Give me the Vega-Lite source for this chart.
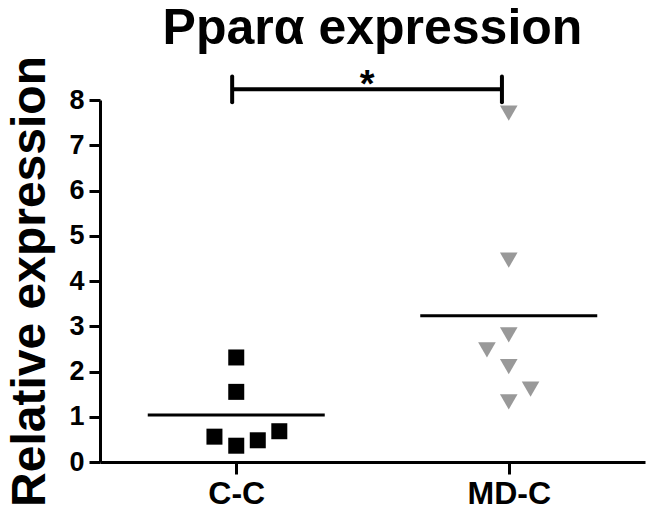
{
  "$schema": "https://vega.github.io/schema/vega-lite/v6.json",
  "width": 545,
  "height": 362,
  "autosize": {"type": "none"},
  "padding": {"left": 100, "top": 100, "right": 8, "bottom": 52},
  "background": "white",
  "config": {
    "view": {"stroke": null},
    "font": "Liberation Sans",
    "axis": {
      "grid": false,
      "domainColor": "black",
      "domainWidth": 3,
      "tickColor": "black",
      "tickWidth": 3,
      "labelColor": "black",
      "labelFontWeight": "bold",
      "labelFont": "Liberation Sans",
      "titleColor": "black",
      "titleFont": "Liberation Sans",
      "titleFontWeight": "bold"
    }
  },
  "title": {
    "text": "Pparα expression",
    "font": "Liberation Sans",
    "fontSize": 50,
    "fontWeight": "bold",
    "color": "black",
    "anchor": "middle",
    "frame": "group",
    "offset": 2
  },
  "datasets": {
    "points": [
      {"group": "C-C", "pos": 1.0, "value": 2.31},
      {"group": "C-C", "pos": 1.0, "value": 1.55},
      {"group": "C-C", "pos": 0.92, "value": 0.56},
      {"group": "C-C", "pos": 1.0, "value": 0.36},
      {"group": "C-C", "pos": 1.079, "value": 0.48},
      {"group": "C-C", "pos": 1.158, "value": 0.68},
      {"group": "MD-C", "pos": 2.0, "value": 7.71},
      {"group": "MD-C", "pos": 2.0, "value": 4.46},
      {"group": "MD-C", "pos": 2.0, "value": 2.81},
      {"group": "MD-C", "pos": 1.92, "value": 2.48},
      {"group": "MD-C", "pos": 2.0, "value": 2.11},
      {"group": "MD-C", "pos": 2.08, "value": 1.61},
      {"group": "MD-C", "pos": 2.0, "value": 1.33}
    ],
    "means": [
      {"group": "C-C", "pos": 1, "mean": 1.04},
      {"group": "MD-C", "pos": 2, "mean": 3.23}
    ],
    "comparison": [
      {"from": 0.985, "to": 1.975, "mid": 1.48, "level": 8.24, "low": 7.95, "high": 8.52, "label": "*"}
    ]
  },
  "layer": [
    {
      "data": {"name": "means"},
      "mark": {"type": "tick", "orient": "horizontal", "size": 177, "thickness": 3, "color": "black", "opacity": 1},
      "encoding": {
        "x": {
          "field": "pos",
          "type": "quantitative",
          "scale": {"domain": [0.5, 2.5], "nice": false, "zero": false},
          "axis": {
            "values": [1, 2],
            "labelExpr": "datum.value == 1 ? 'C-C' : 'MD-C'",
            "labelFontSize": 32,
            "tickSize": 12,
            "labelPadding": 4,
            "title": null
          }
        },
        "y": {
          "field": "mean",
          "type": "quantitative",
          "scale": {"domain": [0, 8], "nice": false},
          "axis": {
            "values": [0, 1, 2, 3, 4, 5, 6, 7, 8],
            "format": "d",
            "labelFontSize": 27,
            "tickSize": 11,
            "labelPadding": 5,
            "title": "Relative expression",
            "titleFontSize": 48,
            "titlePadding": 14
          }
        }
      }
    },
    {
      "data": {"name": "points"},
      "mark": {"type": "point", "filled": true, "opacity": 1, "strokeWidth": 0},
      "encoding": {
        "x": {"field": "pos", "type": "quantitative"},
        "y": {"field": "value", "type": "quantitative"},
        "shape": {"field": "group", "type": "nominal", "scale": {"domain": ["C-C", "MD-C"], "range": ["square", "triangle-down"]}, "legend": null},
        "color": {"field": "group", "type": "nominal", "scale": {"domain": ["C-C", "MD-C"], "range": ["#000000", "#999999"]}, "legend": null},
        "size": {"field": "group", "type": "nominal", "scale": {"domain": ["C-C", "MD-C"], "range": [256, 310]}, "legend": null}
      }
    },
    {
      "data": {"name": "comparison"},
      "mark": {"type": "rule", "color": "black", "strokeWidth": 4},
      "encoding": {
        "x": {"field": "from", "type": "quantitative"},
        "x2": {"field": "to"},
        "y": {"field": "level", "type": "quantitative"}
      }
    },
    {
      "data": {"name": "comparison"},
      "mark": {"type": "rule", "color": "black", "strokeWidth": 4, "strokeCap": "round"},
      "encoding": {
        "x": {"field": "from", "type": "quantitative"},
        "y": {"field": "low", "type": "quantitative"},
        "y2": {"field": "high"}
      }
    },
    {
      "data": {"name": "comparison"},
      "mark": {"type": "rule", "color": "black", "strokeWidth": 4, "strokeCap": "round"},
      "encoding": {
        "x": {"field": "to", "type": "quantitative"},
        "y": {"field": "low", "type": "quantitative"},
        "y2": {"field": "high"}
      }
    },
    {
      "data": {"name": "comparison"},
      "mark": {"type": "text", "fontSize": 38, "fontWeight": "bold", "color": "black", "baseline": "alphabetic", "align": "center", "font": "Liberation Sans", "dy": 8},
      "encoding": {
        "x": {"field": "mid", "type": "quantitative"},
        "y": {"field": "level", "type": "quantitative"},
        "text": {"field": "label"}
      }
    }
  ]
}
